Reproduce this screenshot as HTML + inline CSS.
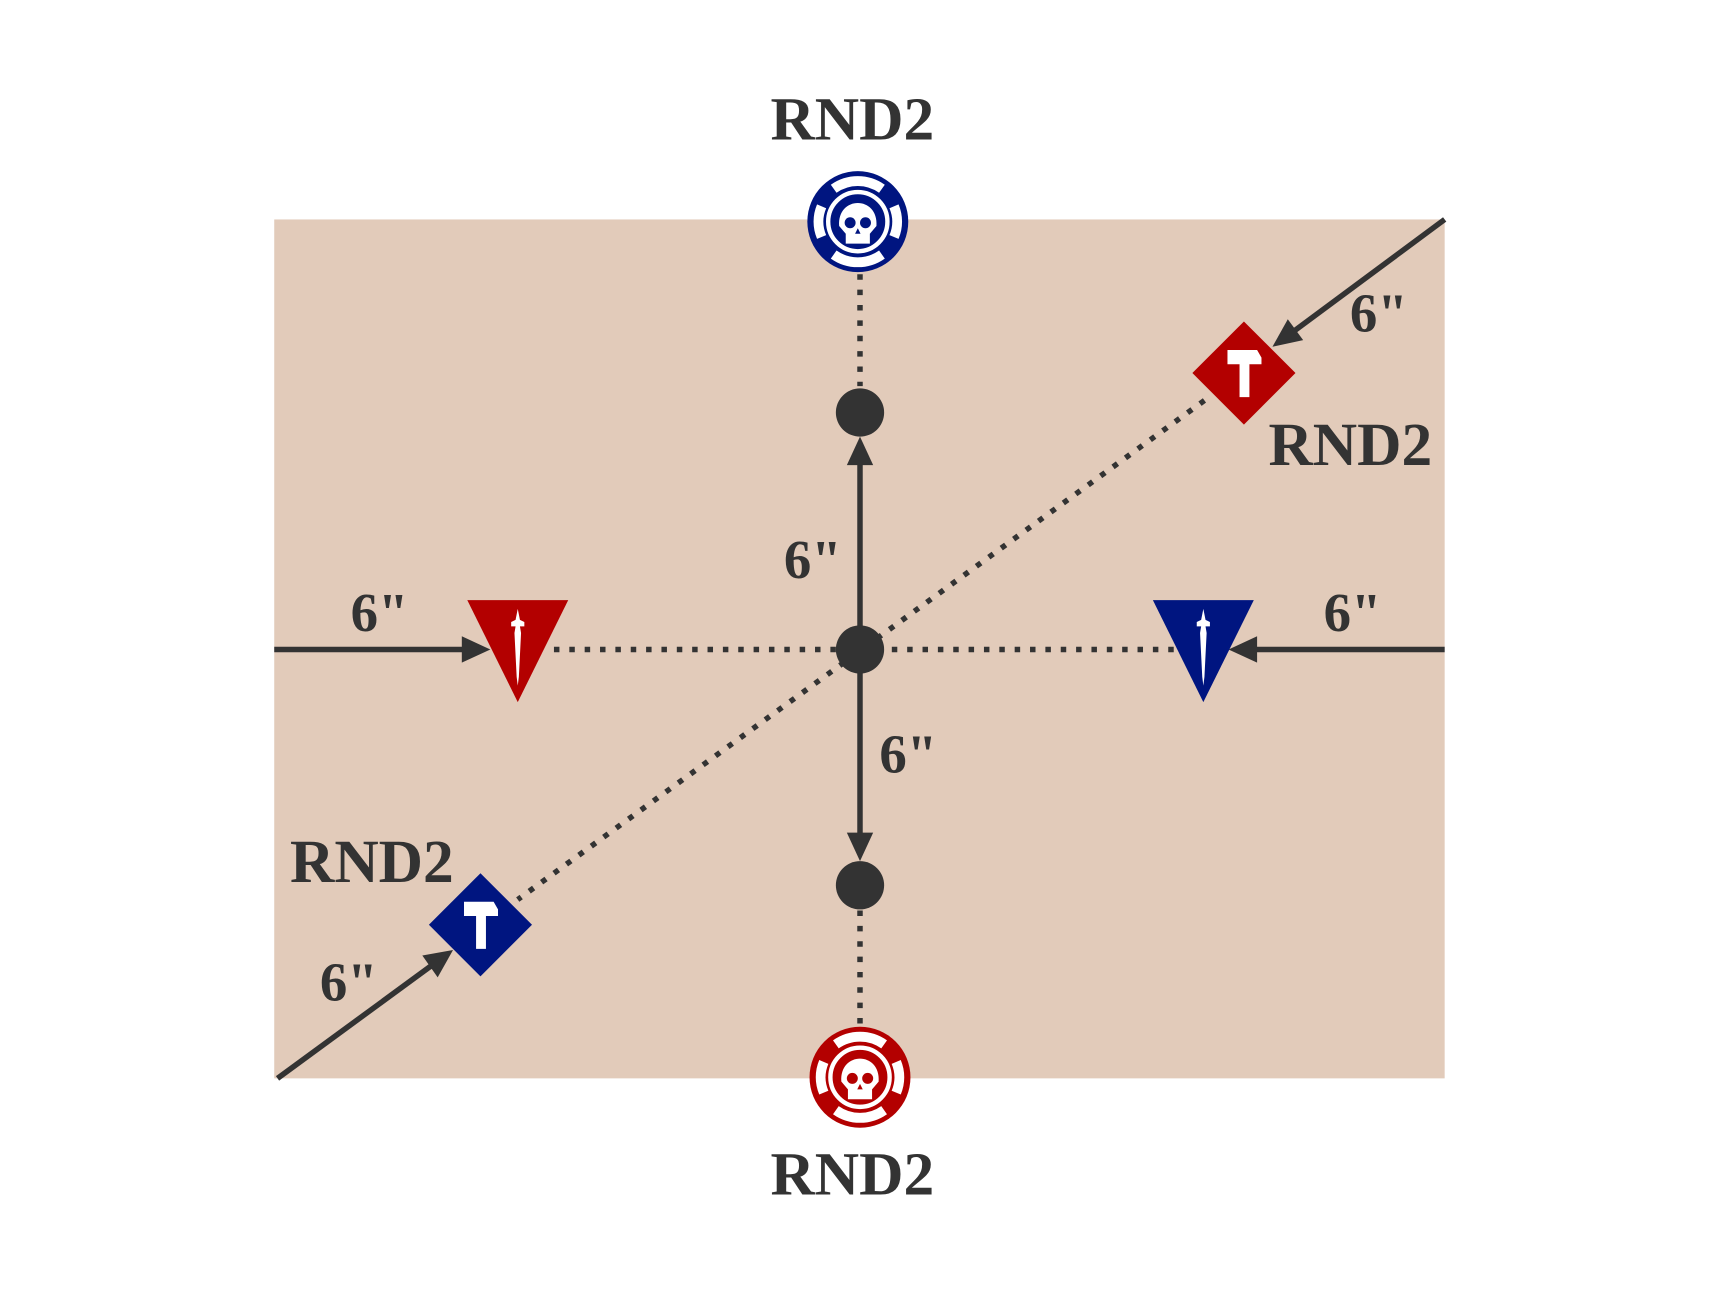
<!DOCTYPE html>
<html><head><meta charset="utf-8"><style>html,body{margin:0;padding:0;background:#fff}svg{display:block}</style></head><body>
<svg width="1720" height="1300" viewBox="0 0 1568 1185" xmlns="http://www.w3.org/2000/svg">
<defs>
<g id="skull">
<circle r="46" fill="currentColor"/>
<g fill="none" stroke="#fff" stroke-width="9">
<path d="M-22,-30 A38,38 0 0 1 22,-30"/>
<path d="M-22,30 A38,38 0 0 0 22,30"/>
<path d="M-33,-14 A36,36 0 0 0 -33,14"/>
<path d="M33,-14 A36,36 0 0 1 33,14"/>
</g>
<circle r="27" fill="none" stroke="#fff" stroke-width="4"/>
<path d="M-17,4 C-19,-24 19,-24 17,4 L11,11 L11,20 L-11,20 L-11,11 Z" fill="#fff"/>
<circle cx="-7" cy="1" r="5" fill="currentColor"/><circle cx="7" cy="1" r="5" fill="currentColor"/>
<path d="M0,6 L-2.5,11 L2.5,11Z" fill="currentColor"/>
</g>
<g id="dia">
<polygon points="0,-47 47,0 0,47 -47,0" fill="currentColor"/>
<path d="M-15,-21 L12,-21 L16,-14 L16,-8 L5,-8 L5,22 L-4,22 L-4,-8 L-15,-8 Z" fill="#fff"/>
</g>
<g id="tri">
<polygon points="-46,0 46,0 0,93" fill="currentColor"/>
<path d="M0,8 L2,18 L6,20 L6,24 L2,24 L3,30 L1,70 L0,78 L-1,70 L-3,30 L-2,24 L-6,24 L-6,20 L-2,18 Z" fill="#fff"/>
</g>
</defs>
<rect x="250" y="200" width="1067" height="783" fill="#e2cbba"/>
<g stroke="#333" stroke-width="5" stroke-dasharray="5 9" fill="none">
<line x1="784" y1="250" x2="784" y2="352"/>
<line x1="784" y1="830" x2="784" y2="935"/>
<line x1="505" y1="592" x2="1070" y2="592"/>
<line x1="1098" y1="365" x2="472" y2="820"/>
</g>
<g stroke="#333" stroke-width="5" fill="none">
<line x1="250" y1="592" x2="425" y2="592"/>
<line x1="1317" y1="592" x2="1142" y2="592"/>
<line x1="784" y1="592" x2="784" y2="420"/>
<line x1="784" y1="592" x2="784" y2="763"/>
<line x1="1317" y1="200" x2="1178" y2="303"/>
<line x1="253" y1="983" x2="395" y2="879"/>
</g>
<g fill="#333">
<polygon points="447,592 421,580 421,604"/>
<polygon points="1120,592 1146,580 1146,604"/>
<polygon points="784,398 772,424 796,424"/>
<polygon points="784,785 772,759 796,759"/>
<polygon points="1160,316 1188,310 1174,291"/>
<polygon points="413,866 399,891 385,871"/>
<circle cx="784" cy="592" r="22"/>
<circle cx="784" cy="376" r="22"/>
<circle cx="784" cy="807" r="22"/>
</g>
<use href="#skull" x="782" y="202" color="#001580"/>
<use href="#skull" x="784" y="982" color="#b30000"/>
<use href="#tri" x="472" y="547" color="#b30000"/>
<use href="#tri" x="1097" y="547" color="#001580"/>
<use href="#dia" x="1134" y="340" color="#b30000"/>
<use href="#dia" x="438" y="843" color="#001580"/>
<g font-family="Liberation Serif, serif" font-weight="bold" fill="#333" text-anchor="middle">
<g font-size="56">
<text x="777" y="127">RND2</text>
<text x="1231" y="424">RND2</text>
<text x="339" y="804">RND2</text>
<text x="777" y="1089">RND2</text>
</g>
<g font-size="50">
<text x="1257" y="302">6"</text>
<text x="741" y="527">6"</text>
<text x="346" y="575">6"</text>
<text x="1233" y="575">6"</text>
<text x="828" y="704">6"</text>
<text x="318" y="912">6"</text>
</g>
</g>
</svg>
</body></html>
